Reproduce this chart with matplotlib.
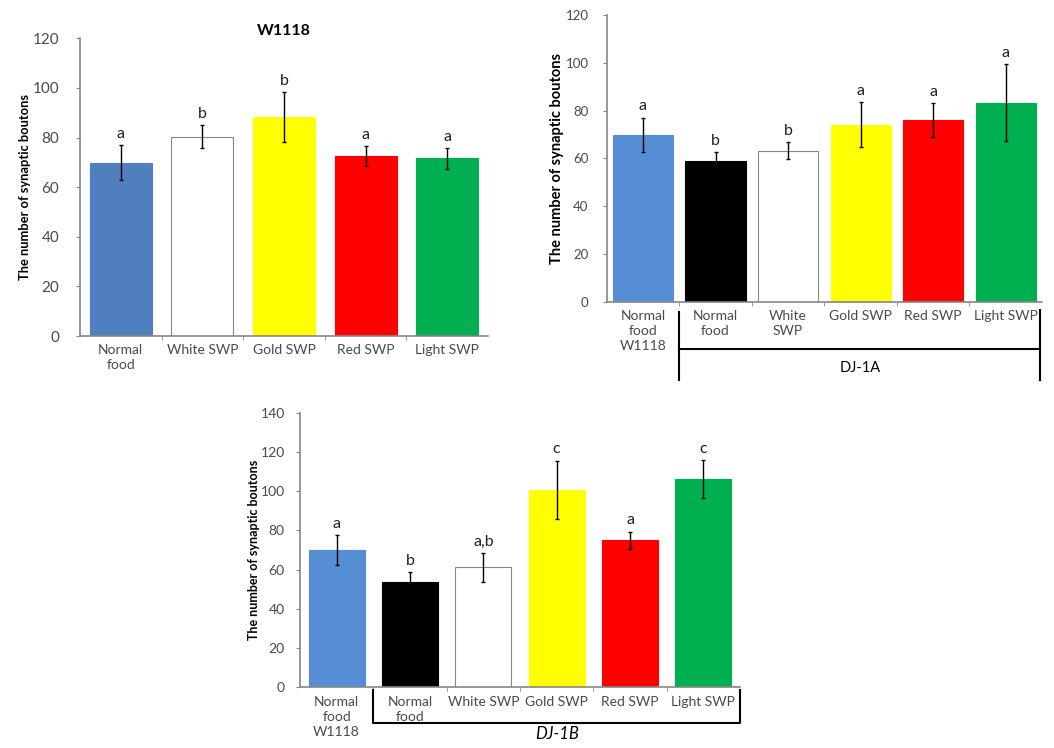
import matplotlib
matplotlib.use("Agg")
import matplotlib.pyplot as plt
import matplotlib.transforms as mtransforms

plt.rcParams['font.family'] = ['Lato', 'DejaVu Sans']

# W1118 panel
w_labels = ["Normal\nfood", "White SWP", "Gold SWP", "Red SWP", "Light SWP"]
w_means = [69.9, 80.4, 88.4, 72.6, 71.6]
w_err = [7.2, 4.5, 10.0, 4.1, 4.2]
w_letters = ["a", "b", "b", "a", "a"]
w_colors = ["#4F7FBF", "white", "#FFFF00", "#FF0000", "#00B050"]

# DJ-1A panel
a_labels = ["Normal\nfood\nW1118", "Normal\nfood", "White\nSWP", "Gold SWP", "Red SWP", "Light SWP"]
a_means = [69.8, 59.0, 63.2, 74.2, 76.0, 83.3]
a_err = [7.3, 3.6, 3.6, 9.4, 7.1, 16.2]
a_letters = ["a", "b", "b", "a", "a", "a"]

# DJ-1B panel
b_labels = ["Normal\nfood\nW1118", "Normal\nfood", "White SWP", "Gold SWP", "Red SWP", "Light SWP"]
b_means = [70.0, 53.9, 61.2, 100.6, 75.1, 106.2]
b_err = [7.6, 5.0, 7.3, 15.0, 4.3, 9.8]
b_letters = ["a", "b", "a,b", "c", "a", "c"]

dj_colors = ["#558ED5", "black", "white", "#FFFF00", "#FF0000", "#00B050"]

GRAY = "#868686"
TXT = "#4a4a4a"


def panel(ax, labels, means, errs, letters, colors, ymax, width,
          ytick_fs, ylabel_fs, ypad, ylabelpad):
    x = list(range(len(means)))
    edges = [GRAY if c == "white" else c for c in colors]
    ax.bar(x, means, width=width, color=colors, edgecolor=edges, linewidth=0.8, zorder=2)
    ax.errorbar(x, means, yerr=errs, fmt="none", ecolor="black", elinewidth=1.0,
                capsize=1.5, capthick=1.0, zorder=3)
    for xi, m, e, s in zip(x, means, errs, letters):
        ax.annotate(s, (xi, m + e), xytext=(0, 3), textcoords="offset points",
                    ha="center", va="bottom", fontsize=11.5, color="#202020")
    ax.set_xlim(-0.5, len(means) - 0.5)
    ax.set_ylim(0, ymax)
    ax.set_yticks(range(0, ymax + 1, 20))
    ax.set_xticks(x)
    ax.set_xticklabels(labels, fontsize=10, color=TXT, linespacing=1.3)
    ax.set_xticks([i + 0.5 for i in x[:-1]], minor=True)
    ax.tick_params(axis="x", which="major", length=0, pad=6)
    ax.tick_params(axis="x", which="minor", length=3, color=GRAY)
    ax.tick_params(axis="y", length=3, color=GRAY, labelsize=ytick_fs,
                   labelcolor=TXT, pad=ypad)
    for sp in ["top", "right"]:
        ax.spines[sp].set_visible(False)
    for sp in ["left", "bottom"]:
        ax.spines[sp].set_color(GRAY)
        ax.spines[sp].set_linewidth(1.2)
    ax.set_ylabel("The number of synaptic boutons", fontsize=ylabel_fs,
                  fontweight="bold", color="black", labelpad=ylabelpad)


fig = plt.figure(figsize=(10.54, 7.48), dpi=100)

ax1 = fig.add_axes([0.0759, 0.5508, 0.387, 0.398])
panel(ax1, w_labels, w_means, w_err, w_letters, w_colors, 120, 0.76,
      11, 9.3, 12, 1)
ax1.set_title("W1118", fontsize=11.5, fontweight="bold", pad=-10)

ax2 = fig.add_axes([0.5756, 0.5967, 0.413, 0.383])
panel(ax2, a_labels, a_means, a_err, a_letters, dj_colors, 120, 0.83,
      9.5, 10.5, 10, 1)
tr2 = mtransforms.blended_transform_factory(ax2.transData, ax2.transAxes)
ax2.plot([0.5, 0.5], [-0.036, -0.273], color="black", lw=1.5, transform=tr2, clip_on=False)
ax2.plot([5.47, 5.47], [-0.03, -0.273], color="black", lw=1.5, transform=tr2, clip_on=False)
ax2.plot([0.5, 5.47], [-0.165, -0.165], color="black", lw=1.5, transform=tr2, clip_on=False)
ax2.text(3.0, -0.231, "DJ-1A", transform=tr2, ha="center", va="center", fontsize=10.5, color="black")

ax3 = fig.add_axes([0.2846, 0.0811, 0.4175, 0.367])
panel(ax3, b_labels, b_means, b_err, b_letters, dj_colors, 140, 0.76,
      10, 9, 8, 0)
tr3 = mtransforms.blended_transform_factory(ax3.transData, ax3.transAxes)
ax3.plot([0.5, 0.5, 5.5, 5.5], [-0.01, -0.13, -0.13, -0.01], color="black", lw=1.5,
         transform=tr3, clip_on=False)
ax3.text(3.0, -0.17, "DJ-1B", transform=tr3, ha="center", va="center", fontsize=12,
         style="italic", color="black")

fig.savefig("out.png", dpi=100)
